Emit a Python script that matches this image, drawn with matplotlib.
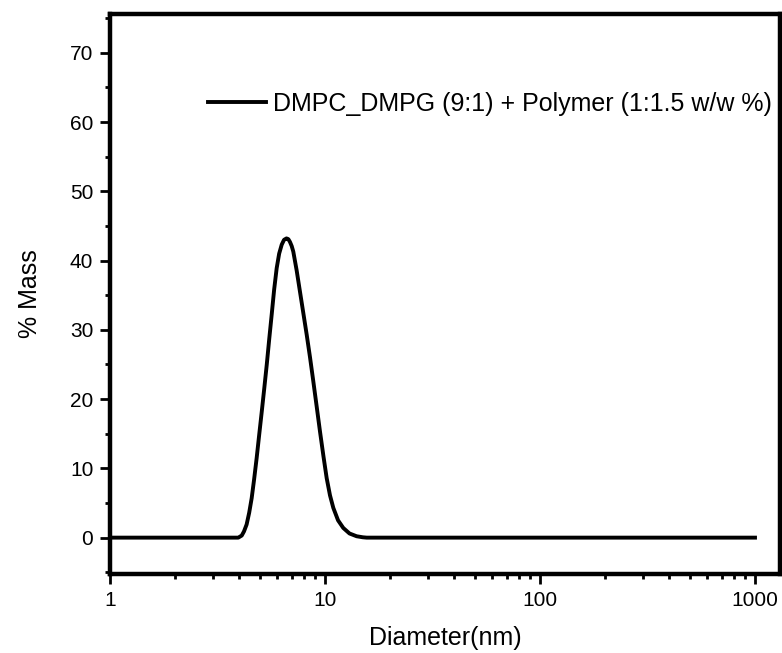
import matplotlib
matplotlib.use("Agg")
import matplotlib.pyplot as plt
from matplotlib.ticker import LogLocator, FixedLocator, NullFormatter

plt.rcParams['font.family'] = ['Liberation Sans', 'DejaVu Sans']

diameter_nm = [1.0, 3.95, 4.1, 4.2, 4.32, 4.44, 4.56, 4.68, 4.81, 4.94, 5.08,
               5.22, 5.36, 5.5, 5.65, 5.8, 5.96, 6.12, 6.29, 6.45, 6.62,
               6.75, 6.87, 7.0, 7.12, 7.38, 7.65, 7.93, 8.22, 8.52, 8.82,
               9.15, 9.48, 9.83, 10.18, 10.55, 10.93, 11.5, 12.16, 13.0,
               14.03, 15.0, 15.63, 1000.0]
mass_pct = [0.0, 0.0, 0.3, 0.9, 1.9, 3.6, 5.7, 8.4, 11.5, 14.8, 18.2,
            21.6, 25.0, 28.6, 32.2, 35.8, 38.9, 41.0, 42.3, 43.0, 43.2,
            43.1, 42.7, 42.1, 41.3, 38.6, 35.5, 32.4, 29.3, 26.0, 22.6,
            18.9, 15.3, 11.8, 8.6, 6.1, 4.3, 2.5, 1.4, 0.6,
            0.2, 0.05, 0.0, 0.0]
series_label = "DMPC_DMPG (9:1) + Polymer (1:1.5 w/w %)"
y_ticks = [0, 10, 20, 30, 40, 50, 60, 70]
x_ticks = [1, 10, 100, 1000]
x_tick_labels = ["1", "10", "100", "1000"]

fig = plt.figure(figsize=(7.82, 6.53), dpi=100)
ax = fig.add_axes([110/782, 1-574/653, 670/782, 560/653])

ax.plot(diameter_nm, mass_pct, color='black', lw=2.8, solid_joinstyle='round',
        label=series_label)
ax.set_xscale('log')
ax.set_xlim(1, 1307)
ax.set_ylim(-5.25, 75.6)

ax.xaxis.set_major_locator(FixedLocator(x_ticks))
ax.set_xticklabels(x_tick_labels)
ax.xaxis.set_minor_locator(LogLocator(base=10, subs=range(2, 10)))
ax.xaxis.set_minor_formatter(NullFormatter())
ax.set_yticks(y_ticks)
ax.yaxis.set_minor_locator(FixedLocator([-5, 5, 15, 25, 35, 45, 55, 65, 75]))

for s in ax.spines.values():
    s.set_linewidth(3.2)

ax.tick_params(which='major', direction='out', length=7, width=2.0,
               labelsize=15, pad=5)
ax.tick_params(which='minor', direction='out', length=3.5, width=2.0)

ax.set_xlabel("Diameter(nm)", fontsize=18, labelpad=12)
ax.set_ylabel("% Mass", fontsize=18, labelpad=20)

leg = ax.legend(loc='center left', bbox_to_anchor=((208-110)/670, (574-104)/560),
                frameon=False, fontsize=18, handlelength=2.3, handletextpad=0.3,
                borderpad=0, borderaxespad=0)

fig.savefig("out.png", dpi=100)
